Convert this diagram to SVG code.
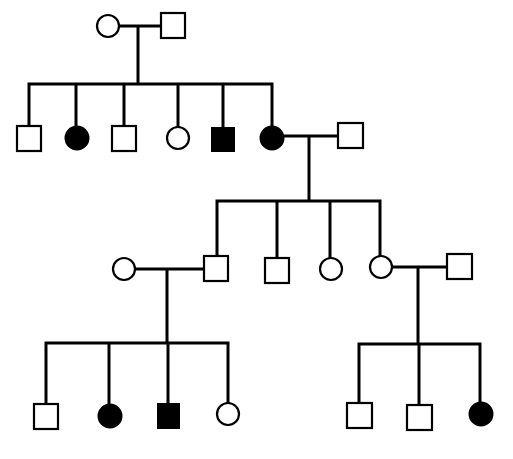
<svg xmlns="http://www.w3.org/2000/svg" width="513" height="459" viewBox="0 0 513 459">
<style>
.ln{stroke:#000;stroke-width:3;fill:none;stroke-linecap:square}
.o{fill:#fff;stroke:#000;stroke-width:2.2}
.f{fill:#000;stroke:#000;stroke-width:2}
</style>
<rect width="513" height="459" fill="#fff"/>
<g id="connectors">
<path class="ln" d="M119,26H161M138,26V84M29,84H272M29,84V126M76,84V126M124,84V126M178,84V127M223,84V128M272,84V126"/>
<path class="ln" d="M284,136H338M309,136V201M217,201H379M217,201V256M277,201V258M330,201V258M380,201V256"/>
<path class="ln" d="M135,269H203M167,269V343M46,343H228M46,343V404M109,343V404M168,343V404M228,343V403"/>
<path class="ln" d="M392,267H447M418,267V344M359,344H479M359,344V403M419,344V404M480,344V402"/>
</g>
<g id="g1-female"><circle class="o" cx="108" cy="26" r="11"/></g>
<g id="g1-male"><rect class="o" x="161" y="13" width="24" height="25"/></g>
<g id="g2-1"><rect class="o" x="17" y="126" width="24" height="25"/></g>
<g id="g2-2"><circle class="f" cx="77" cy="138" r="11.5"/></g>
<g id="g2-3"><rect class="o" x="112" y="126" width="24" height="25"/></g>
<g id="g2-4"><circle class="o" cx="178" cy="138" r="11"/></g>
<g id="g2-5"><rect class="f" x="212" y="128" width="22" height="23"/></g>
<g id="g2-6"><circle class="f" cx="272" cy="138" r="11.5"/></g>
<g id="g2-spouse"><rect class="o" x="338" y="123" width="25" height="25"/></g>
<g id="g3-1"><rect class="o" x="204" y="256" width="24" height="25"/></g>
<g id="g3-2"><rect class="o" x="265" y="258" width="24" height="25"/></g>
<g id="g3-3"><circle class="o" cx="331" cy="269" r="11"/></g>
<g id="g3-4"><circle class="o" cx="381" cy="267" r="11"/></g>
<g id="g3-spouse-left"><circle class="o" cx="124" cy="269" r="11"/></g>
<g id="g3-spouse-right"><rect class="o" x="447" y="254" width="25" height="25"/></g>
<g id="g4-1"><rect class="o" x="34" y="404" width="24" height="25"/></g>
<g id="g4-2"><circle class="f" cx="110" cy="416" r="11.5"/></g>
<g id="g4-3"><rect class="f" x="158" y="404" width="21" height="24"/></g>
<g id="g4-4"><circle class="o" cx="228" cy="414" r="11"/></g>
<g id="g4-5"><rect class="o" x="347" y="403" width="25" height="25"/></g>
<g id="g4-6"><rect class="o" x="407" y="405" width="25" height="25"/></g>
<g id="g4-7"><circle class="f" cx="481" cy="414" r="11.5"/></g>
</svg>
